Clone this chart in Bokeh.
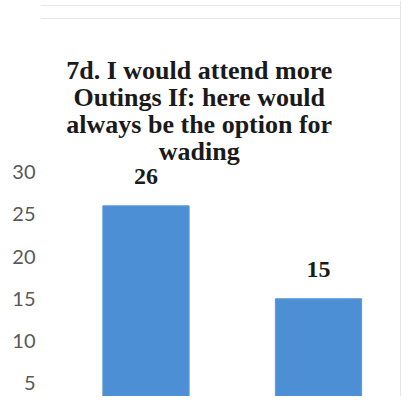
from bokeh.plotting import figure
from bokeh.models import Range1d, FixedTicker, ColumnDataSource, LabelSet, Label, Span
from bokeh.core.properties import value
from bokeh.embed import file_html
from bokeh.resources import INLINE

# ---- data ----
categories = ["Yes", "No"]
positions = [1, 2]
counts = [26, 15]
y_ticks = [5, 10, 15, 20, 25, 30]
title_lines = ["7d. I would attend more", "Outings If: here would",
               "always be the option for", "wading"]

BAR_COLOR = "#4d8fd4"

p = figure(width=401, height=396, output_backend="svg", toolbar_location=None,
           x_range=Range1d(0.3884, 2.4812), y_range=Range1d(3.432, 50.30),
           min_border_left=40, min_border_right=0, min_border_top=0, min_border_bottom=0)
p.title.visible = False
p.outline_line_color = None
p.background_fill_color = "white"
p.border_fill_color = "white"
p.xaxis.visible = False
p.xgrid.visible = False
p.ygrid.visible = False

src = ColumnDataSource(dict(x=positions, top=counts, label=[str(c) for c in counts]))
p.vbar(x="x", top="top", bottom=0, width=0.5, source=src,
       fill_color=BAR_COLOR, line_color="#5a9ad8", line_width=1)

labels = LabelSet(x="x", y="top", text="label", source=src, y_offset=22,
                  text_align="center", text_baseline="alphabetic",
                  text_font=value("Liberation Serif"), text_font_style="bold",
                  text_font_size="24px", text_color="#1a1a1a")
p.add_layout(labels)

# y axis
ax = p.yaxis[0]
ax.ticker = FixedTicker(ticks=y_ticks)
ax.axis_line_color = None
ax.major_tick_line_color = None
ax.minor_tick_line_color = None
ax.major_tick_out = 0
ax.major_tick_in = 0
ax.major_label_standoff = 5
ax.major_label_text_font = "Lato"
ax.major_label_text_font_size = "20px"
ax.major_label_text_color = "#595959"

# title lines (placed via the data scales)
title_x = 1.3087
title_ys = [42.0, 38.8, 35.6, 32.4]
for txt, ty in zip(title_lines, title_ys):
    p.add_layout(Label(x=title_x, y=ty, text=txt, text_align="center",
                       text_baseline="alphabetic",
                       text_font="Liberation Serif", text_font_style="bold",
                       text_font_size="26px", text_color="#1a1a1a"))

# faint chart border lines
p.add_layout(Span(location=49.70, dimension="width", line_color="#e6e6e6", line_width=1))
p.add_layout(Span(location=48.17, dimension="width", line_color="#e6e6e6", line_width=1))
p.add_layout(Span(location=2.4754, dimension="height", line_color="#e6e6e6", line_width=1))

open("out.html", "w").write(file_html(p, INLINE))
